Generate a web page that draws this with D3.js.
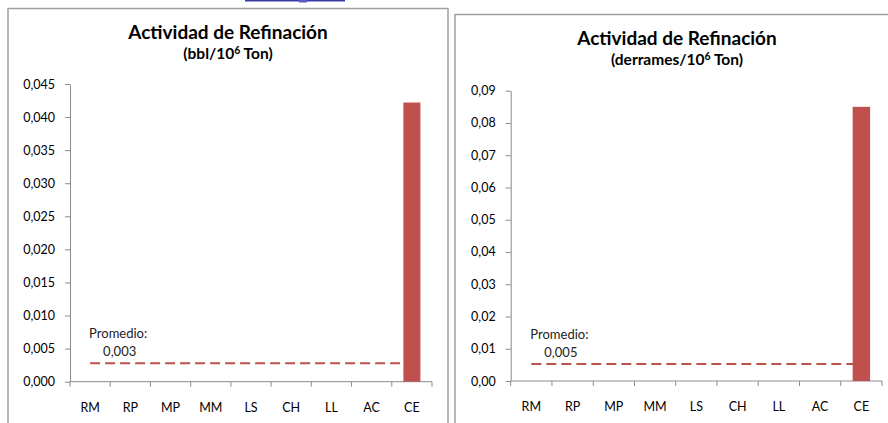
<!DOCTYPE html>
<html>
<head>
<meta charset="utf-8">
<script src="https://cdn.jsdelivr.net/npm/d3@7"></script>
<style>
  html, body { margin: 0; padding: 0; background: #fff; }
  svg { display: block; }
  text { font-family: Lato, "Open Sans", sans-serif; }
</style>
</head>
<body>
<script>
// ---- data ----
const categories = ["RM", "RP", "MP", "MM", "LS", "CH", "LL", "AC", "CE"];
const bblValues = [0, 0, 0, 0, 0, 0, 0, 0, 0.0422];
const spillValues = [0, 0, 0, 0, 0, 0, 0, 0, 0.085];
const bblAverage = 0.0028;
const spillAverage = 0.0053;
const bblAverageLabel = "0,003";
const spillAverageLabel = "0,005";
const bblTicks = [0, 0.005, 0.010, 0.015, 0.020, 0.025, 0.030, 0.035, 0.040, 0.045];
const spillTicks = [0, 0.01, 0.02, 0.03, 0.04, 0.05, 0.06, 0.07, 0.08, 0.09];
const chartTitle = "Actividad de Refinación";
const bblSubtitle = "(bbl/10";
const spillSubtitle = "(derrames/10";
const averageText = "Promedio:";

const W = 888, H = 423;
const svg = d3.select("body").append("svg").attr("width", W).attr("height", H);

// hyperlink fragment at top
svg.append("rect").attr("x", 245).attr("y", 0).attr("width", 100).attr("height", 1.5).attr("fill", "#3b3ba6");
svg.append("rect").attr("x", 299).attr("y", 0).attr("width", 8).attr("height", 2.5).attr("fill", "#5a5ab8");

function panel(cfg) {
  const g = svg.append("g");
  // frame
  g.append("rect")
    .attr("x", cfg.frame[0]).attr("y", cfg.frame[1])
    .attr("width", cfg.frame[2]).attr("height", cfg.frame[3])
    .attr("fill", "none").attr("stroke", "#a0a0a0").attr("stroke-width", 1.5);

  // title
  g.append("text").attr("x", cfg.titleX).attr("y", cfg.titleY)
    .attr("text-anchor", "middle").attr("font-weight", "bold")
    .attr("font-size", 19).attr("fill", "#000").text(chartTitle);
  const sub = g.append("text").attr("x", cfg.titleX).attr("y", cfg.titleY + 20)
    .attr("text-anchor", "middle").attr("font-weight", "bold")
    .attr("font-size", 15.5).attr("fill", "#000");
  sub.append("tspan").text(cfg.subtitle);
  sub.append("tspan").attr("dy", -5).attr("font-size", 10.5).text("6");
  sub.append("tspan").attr("dy", 5).text(" Ton)");

  const x = d3.scaleBand().domain(categories).range([cfg.x0, cfg.x1])
    .paddingInner(0.577).paddingOuter(0.2885);
  const y = d3.scaleLinear().domain([0, cfg.ticks[cfg.ticks.length - 1]]).range([cfg.yBottom, cfg.yTop]);

  // y axis
  const yAxis = g.append("g").attr("transform", `translate(${cfg.x0},0)`)
    .call(d3.axisLeft(y).tickValues(cfg.ticks).tickSize(5).tickSizeOuter(0).tickPadding(10)
      .tickFormat(d => d3.format(cfg.fmt)(d).replace(".", ",")));
  yAxis.selectAll("path, line").attr("stroke", "#8c8c8c").attr("stroke-width", 1);
  yAxis.selectAll("text").attr("font-size", 12.5).attr("fill", "#000").attr("font-family", "Lato, sans-serif");

  // x axis
  const step = x.step();
  const off = (step - x.bandwidth()) / 2;
  const bounds = categories.map(c => x(c) - off).concat([x(categories[categories.length - 1]) + x.bandwidth() + off]);
  g.append("line").attr("x1", cfg.x0).attr("x2", bounds[bounds.length - 1])
    .attr("y1", y(0)).attr("y2", y(0)).attr("stroke", "#8c8c8c");
  g.selectAll(".xt").data(bounds).enter().append("line")
    .attr("x1", d => d).attr("x2", d => d).attr("y1", y(0)).attr("y2", y(0) + 5).attr("stroke", "#8c8c8c");
  g.selectAll(".xl").data(categories).enter().append("text")
    .attr("x", d => x(d) + x.bandwidth() / 2).attr("y", y(0) + 30)
    .attr("text-anchor", "middle").attr("font-size", 12.5).attr("fill", "#000").text(d => d);

  // average line
  g.append("line")
    .attr("x1", x(categories[0]) + x.bandwidth() / 2)
    .attr("x2", x(categories[categories.length - 1]) + x.bandwidth() / 2)
    .attr("y1", y(cfg.avg)).attr("y2", y(cfg.avg))
    .attr("stroke", "#C0504D").attr("stroke-width", 2).attr("stroke-dasharray", "10,5");

  // bars
  g.selectAll(".bar").data(cfg.values).enter().append("rect")
    .attr("x", (d, i) => x(categories[i])).attr("width", x.bandwidth())
    .attr("y", d => y(d)).attr("height", d => y(0) - y(d)).attr("fill", "#C0504D");

  // average label
  const lx = x(categories[0]) + x.bandwidth() / 2 - 1;
  g.append("text").attr("x", lx).attr("y", y(cfg.avg) - 25)
    .attr("font-size", 13).attr("fill", "#222").text(averageText);
  g.append("text").attr("x", lx + 14).attr("y", y(cfg.avg) - 7)
    .attr("font-size", 13).attr("fill", "#222").text(cfg.avgLabel);
}

panel({
  frame: [8, 8.5, 440, 440],
  titleX: 228, titleY: 39,
  subtitle: bblSubtitle,
  x0: 70, x1: 432, yTop: 84, yBottom: 381.7,
  ticks: bblTicks, fmt: ".3f",
  values: bblValues, avg: bblAverage, avgLabel: bblAverageLabel
});

panel({
  frame: [455, 14.5, 440, 440],
  titleX: 677, titleY: 45,
  subtitle: spillSubtitle,
  x0: 510.7, x1: 882, yTop: 90.7, yBottom: 381,
  ticks: spillTicks, fmt: ".2f",
  values: spillValues, avg: spillAverage, avgLabel: spillAverageLabel
});
</script>
</body>
</html>
